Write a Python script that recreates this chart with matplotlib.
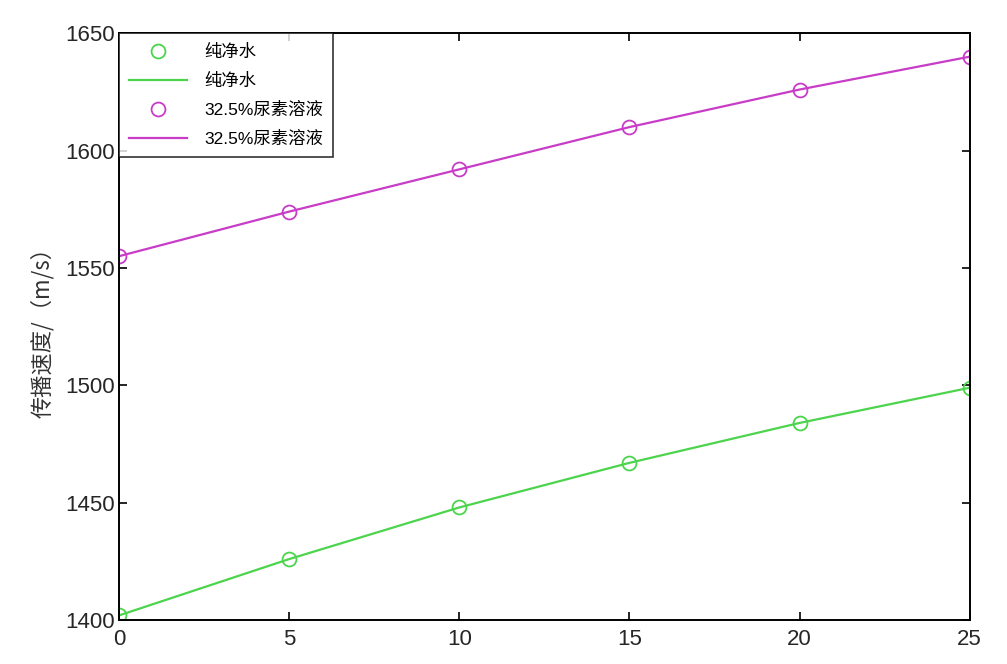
import matplotlib.pyplot as plt

plt.rcParams['font.family'] = ['Liberation Sans', 'Noto Sans CJK SC']

# temperature (deg C) and measured speeds (m/s)
temps = [0, 5, 10, 15, 20, 25]
water = [1402, 1426, 1448, 1467, 1484, 1499]
urea = [1555, 1574, 1592, 1610, 1626, 1640]
water_label = '纯净水'
urea_label = '32.5%尿素溶液'

green = '#4cd44c'
magenta = '#c83cc8'

fig = plt.figure(figsize=(10.07, 6.64), dpi=100)
ax = fig.add_axes([0.118, 0.066, 0.845, 0.884])

ax.plot(temps, water, 'o', mfc='none', mec=green, ms=10, mew=1.3, label=water_label)
ax.plot(temps, water, '-', color=green, lw=1.6, label=water_label)
ax.plot(temps, urea, 'o', mfc='none', mec=magenta, ms=10, mew=1.3, label=urea_label)
ax.plot(temps, urea, '-', color=magenta, lw=1.6, label=urea_label)

ax.set_xlim(0, 25)
ax.set_ylim(1400, 1650)
ax.set_xticks(range(0, 26, 5))
ax.set_yticks(range(1400, 1651, 50))
ax.tick_params(direction='in', top=True, right=True, labelsize=16, length=6, width=1.2,
               pad=6, labelcolor='#262626')
ax.tick_params(axis='y', pad=3)
for s in ax.spines.values():
    s.set_linewidth(1.4)

ax.set_ylabel('传播速度/（m/s）', fontsize=16, color='#333333', family=['Noto Sans CJK SC'],
              labelpad=8)

leg = ax.legend(loc='upper left', fontsize=12.5, frameon=True, fancybox=False,
                edgecolor='black', borderaxespad=0.0, borderpad=0.6,
                handlelength=3.3, handletextpad=1.0, labelspacing=0.75)
leg.get_frame().set_linewidth(1.2)

fig.savefig('out.png', dpi=100)
